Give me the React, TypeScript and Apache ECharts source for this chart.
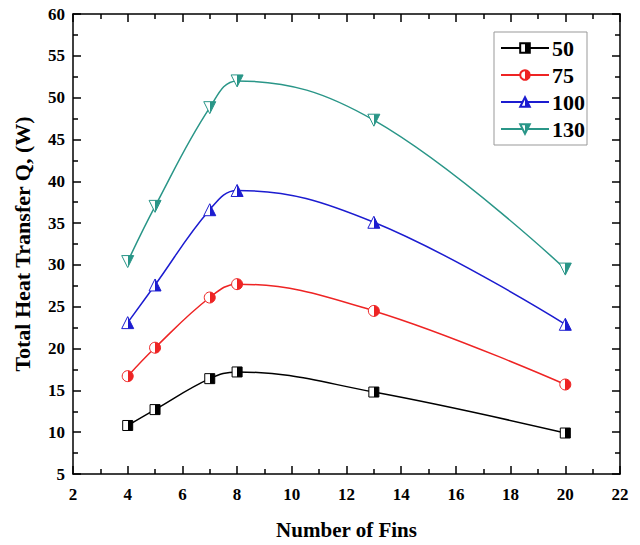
import React, { useEffect, useRef } from "react";
import * as echarts from "echarts";

const fins = [4, 5, 7, 8, 13, 20];
const q50 = [10.8, 12.7, 16.4, 17.2, 14.8, 9.9];
const q75 = [16.7, 20.1, 26.1, 27.7, 24.5, 15.7];
const q100 = [23.1, 27.6, 36.6, 38.9, 35.1, 22.9];
const q130 = [30.4, 37.0, 48.8, 52.0, 47.3, 29.5];
const seriesNames = ["50", "75", "100", "130"];
const seriesColors = ["#000000", "#ee2424", "#1c1cd0", "#2a9688"];
const seriesSymbols = ["rect", "circle", "triangle", "path://M0,0 L10,0 L5,9 Z"];
const seriesSizes = [10, 11, 12, 12];

const FONT = "'Liberation Serif', 'Times New Roman', serif";

function halfFill(c: string) {
  return new echarts.graphic.LinearGradient(0, 0, 1, 0, [
    { offset: 0, color: "#ffffff" },
    { offset: 0.5, color: "#ffffff" },
    { offset: 0.5, color: c },
    { offset: 1, color: c },
  ]);
}

export default function App() {
  const ref = useRef<HTMLDivElement>(null);
  useEffect(() => {
    document.body.style.margin = "0";
    const chart = echarts.init(ref.current!, undefined, { renderer: "svg" });
    const all = [q50, q75, q100, q130];
    const axisCommon = {
      axisLine: { show: true, lineStyle: { color: "#000", width: 1.5 } },
      axisTick: { show: true, inside: true, length: 8, lineStyle: { color: "#000", width: 1.5 } },
      minorTick: { show: true, splitNumber: 2, length: 5, lineStyle: { color: "#000", width: 1.5 } },
      splitLine: { show: false },
    };
    chart.setOption({
      animation: false,
      backgroundColor: "#ffffff",
      grid: { left: 73, right: 20, top: 14, bottom: 67, containLabel: false },
      legend: {
        orient: "vertical",
        left: 494,
        top: 32,
        padding: [5, 2, 5, 6],
        borderColor: "#999",
        borderWidth: 1,
        itemWidth: 48,
        itemHeight: 12,
        itemGap: 5,
        textStyle: { fontFamily: FONT, fontWeight: "bold", fontSize: 22, color: "#000", padding: [0, 0, 0, -2] },
        data: seriesNames,
      },
      xAxis: [
        {
          type: "value",
          min: 2,
          max: 22,
          interval: 2,
          name: "Number of Fins",
          nameLocation: "middle",
          nameGap: 45,
          nameTextStyle: { fontFamily: FONT, fontWeight: "bold", fontSize: 21, color: "#000" },
          axisLabel: { fontFamily: FONT, fontWeight: "bold", fontSize: 17, color: "#000", margin: 12 },
          ...axisCommon,
        },
        {
          type: "value",
          position: "top",
          min: 2,
          max: 22,
          interval: 2,
          axisLabel: { show: false },
          ...axisCommon,
        },
      ],
      yAxis: [
        {
          type: "value",
          min: 5,
          max: 60,
          interval: 5,
          name: "Total Heat Transfer Q, (W)",
          nameLocation: "middle",
          nameGap: 40,
          nameTextStyle: { fontFamily: FONT, fontWeight: "bold", fontSize: 22, color: "#000" },
          axisLabel: { fontFamily: FONT, fontWeight: "bold", fontSize: 17, color: "#000", margin: 8 },
          ...axisCommon,
        },
        {
          type: "value",
          position: "right",
          min: 5,
          max: 60,
          interval: 5,
          axisLabel: { show: false },
          ...axisCommon,
        },
      ],
      series: seriesNames.map((name, i) => ({
        name,
        type: "line",
        smooth: 0.4,
        data: fins.map((f, j) => [f, all[i][j]]),
        symbol: seriesSymbols[i],
        symbolSize: seriesSizes[i],
        showAllSymbol: true,
        lineStyle: { color: seriesColors[i], width: 1.5 },
        itemStyle: { color: halfFill(seriesColors[i]), borderColor: seriesColors[i], borderWidth: 1 },
        emphasis: { disabled: true },
      })),
    });
    return () => chart.dispose();
  }, []);
  return <div ref={ref} style={{ width: 640, height: 545 }} />;
}
